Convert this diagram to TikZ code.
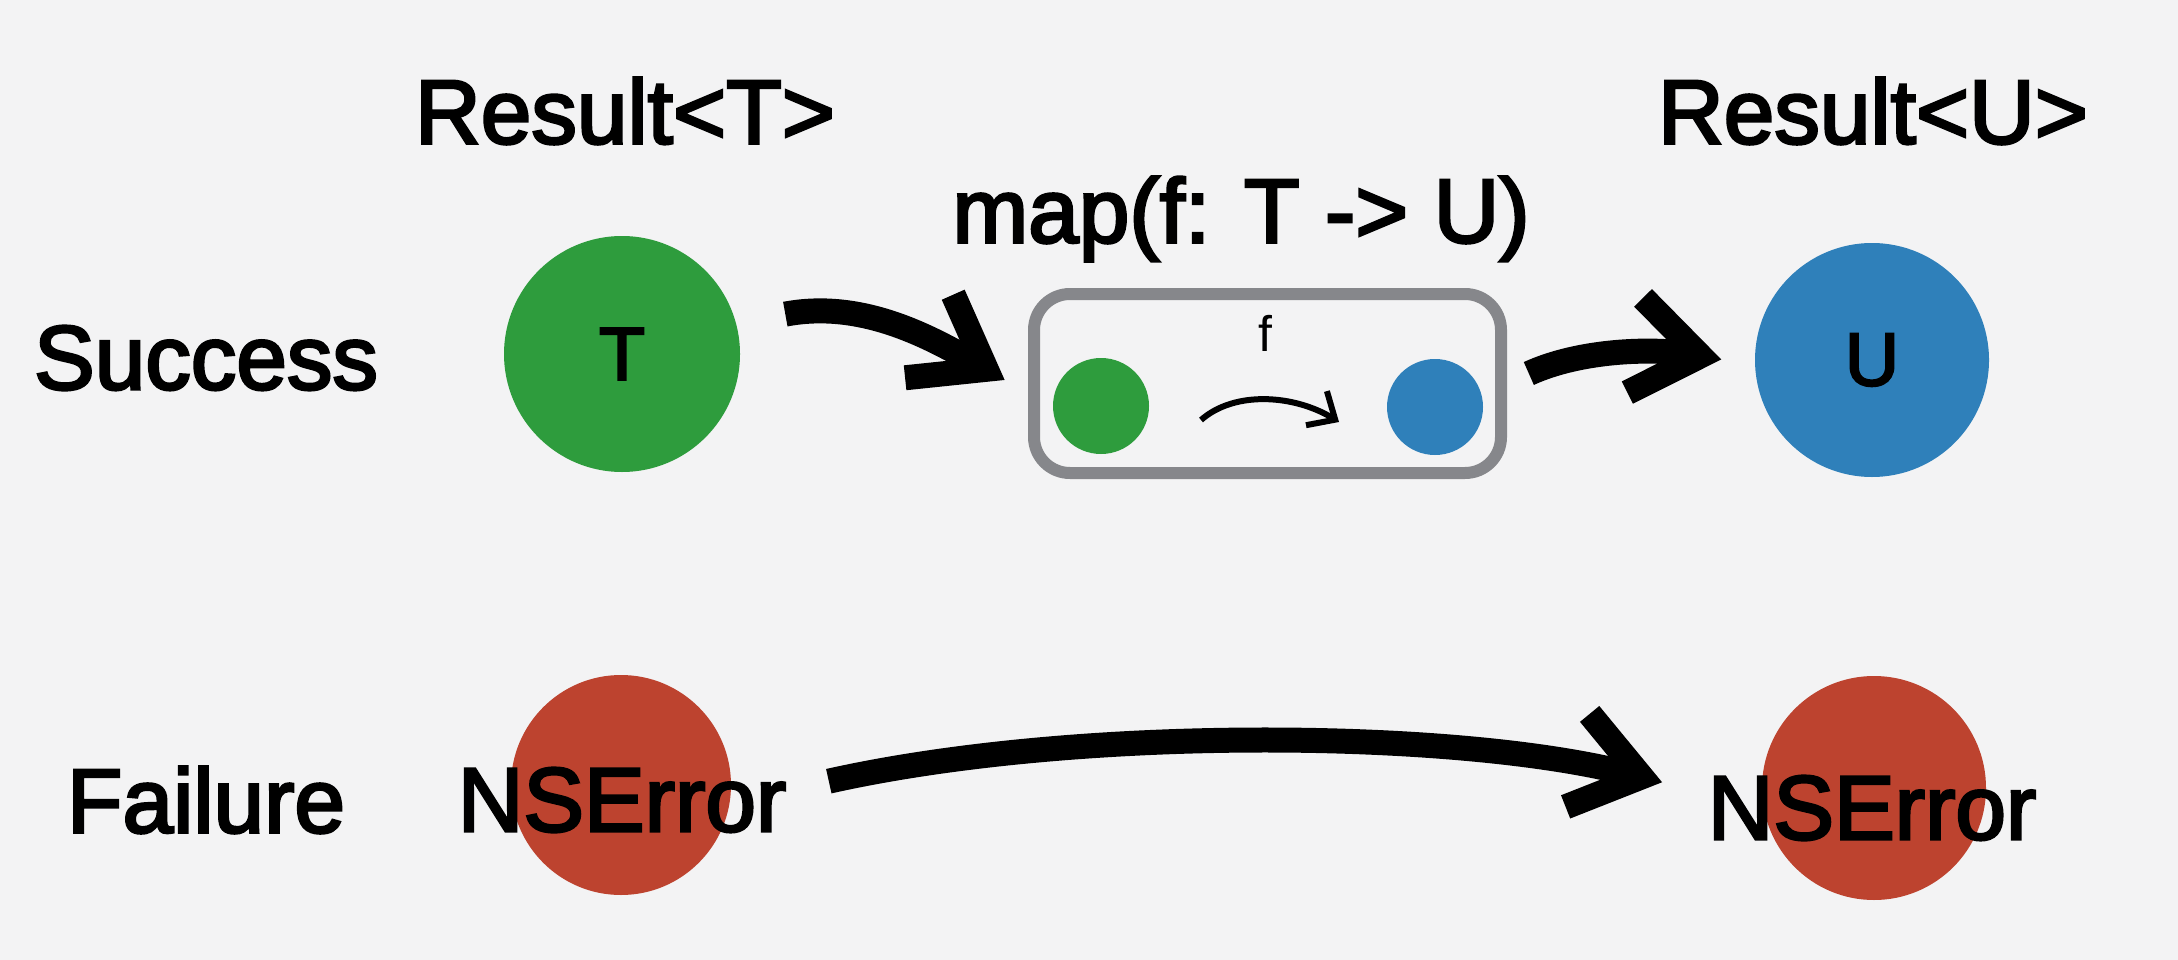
\documentclass[tikz,border=0pt]{standalone}
\usepackage{fontspec}
\setmainfont{Liberation Sans}
\newfontfamily\medfont{Liberation Sans}[FakeBold=3]
\usetikzlibrary{arrows.meta}
\definecolor{bgc}{HTML}{F3F3F4}
\definecolor{cgreen}{HTML}{2E9C3D}
\definecolor{cblue}{HTML}{2F80BA}
\definecolor{cred}{HTML}{BD432F}
\definecolor{cgray}{HTML}{86878B}
\tikzset{
  lbl/.style={font=\medfont\fontsize{91}{110}\selectfont, inner sep=0pt, anchor=center},
  inlbl/.style={font=\medfont\fontsize{75}{90}\selectfont, inner sep=0pt},
  dot/.style={circle, inner sep=0pt, draw=none},
  chev/.tip={Straight Barb[length=66pt,width=96pt,line width=25pt]},
  smallchev/.tip={Straight Barb[length=22pt,width=40pt,line width=6pt]},
  bigarr/.style={line width=25pt, -chev},
  smallarr/.style={line width=6pt, -smallchev},
}
\begin{document}
\begin{tikzpicture}[x=1pt,y=-1pt]
\fill[bgc] (0,0) rectangle (2178,960);
\useasboundingbox (0,0) rectangle (2178,960);

% headers
\node[lbl] (resT) at (625,111) {Result<T>};
\node[lbl] (resU) at (1873,111) {Result<U>};
\node[lbl] (map) at (1241,219) {map(f: T -> U)};
\node[lbl] (succ) at (206,358) {Success};
\node[lbl] (fail) at (206,800) {Failure};

% success row
\node[dot, fill=cgreen, minimum size=236pt, inlbl] (cT) at (622,354) {T};
\node[dot, fill=cblue, minimum size=234pt, inlbl] (cU) at (1872,360) {U};

\node[draw=cgray, line width=12pt, rounded corners=36pt, minimum width=467pt,
      minimum height=179pt, inner sep=0pt] (box) at (1267.5,383.5) {};
\node[dot, fill=cgreen, minimum size=96pt] (g) at (1101,406) {};
\node[dot, fill=cblue, minimum size=96pt] (b) at (1435,407) {};
\node[font=\fontsize{50}{60}\selectfont, inner sep=0pt] (flbl) at (1265,333) {f};
\coordinate (fs) at (1201,420);
\coordinate (fe) at (1339,422);
\draw[smallarr] (fs) .. controls (1235,390) and (1295,395) .. (fe);

\draw[bigarr, shorten <=50pt, shorten >=27pt] (cT.15) .. controls (860,300) and (927,335) .. ([yshift=-10pt]box.west);
\draw[bigarr, shorten <=24pt, shorten >=34pt] (box.east) .. controls (1580,350) and (1652,348) .. ([yshift=-5pt]cU.west);

% failure row
\node[dot, fill=cred, minimum size=220pt] (eL) at (621,785) {};
\node[dot, fill=cred, minimum size=224pt] (eR) at (1874,788) {};
\node[lbl] (eLt) at (622,800) {NSError};
\node[lbl] (eRt) at (1872,808) {NSError};
\draw[bigarr, shorten <=100pt, shorten >=103pt] ([yshift=-18pt]eL.east) .. controls (1080,725) and (1460,730) .. ([yshift=-20pt]eR.west);
\end{tikzpicture}
\end{document}
